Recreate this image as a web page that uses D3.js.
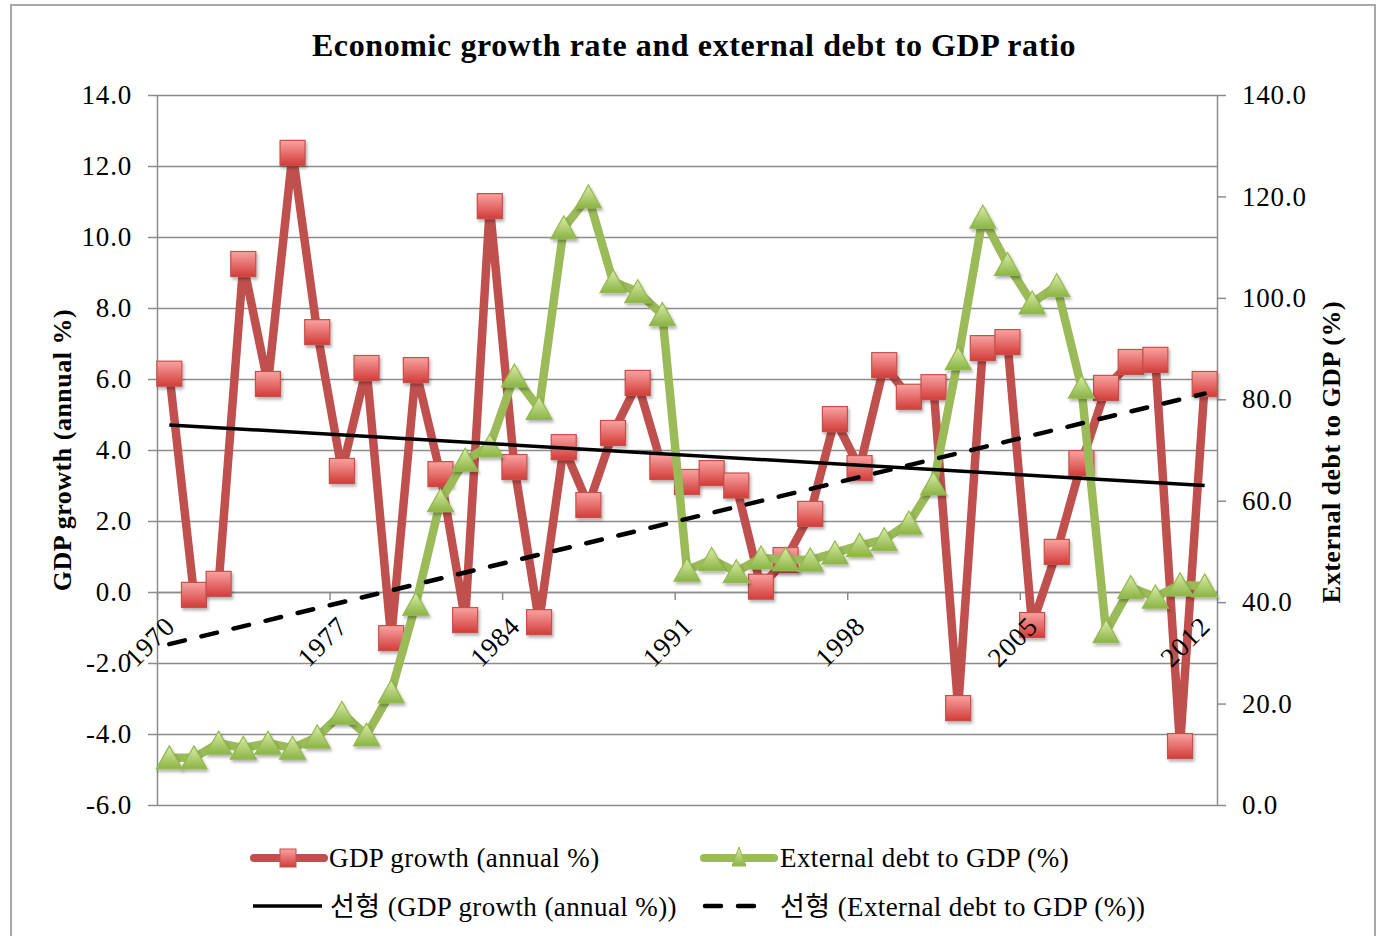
<!DOCTYPE html>
<html>
<head>
<meta charset="utf-8">
<script src="https://cdn.jsdelivr.net/npm/d3@7"></script>
<style>
  body { margin: 0; background: #fff; }
  text { font-family: "Liberation Serif", "Noto Sans CJK KR", serif; }
</style>
</head>
<body>
<script>
// categories
var years = [1970, 1971, 1972, 1973, 1974, 1975, 1976, 1977, 1978, 1979,
             1980, 1981, 1982, 1983, 1984, 1985, 1986, 1987, 1988, 1989,
             1990, 1991, 1992, 1993, 1994, 1995, 1996, 1997, 1998, 1999,
             2000, 2001, 2002, 2003, 2004, 2005, 2006, 2007, 2008, 2009,
             2010, 2011, 2012];
var labelYears = [1970, 1977, 1984, 1991, 1998, 2005, 2012];

// GDP growth (annual %) - left axis
var gdpGrowth = [6.15, -0.08, 0.23, 9.24, 5.86, 12.37, 7.32, 3.41, 6.31, -1.3,
                 6.25, 3.32, -0.79, 10.87, 3.52, -0.85, 4.08, 2.45, 4.48, 5.89,
                 3.52, 3.1, 3.35, 3.0, 0.15, 0.9, 2.2, 4.87, 3.49, 6.39,
                 5.5, 5.77, -3.27, 6.87, 7.04, -0.93, 1.13, 3.63, 5.75, 6.48,
                 6.54, -4.34, 5.86];

// External debt to GDP (%) - right axis
var extDebt = [9.3, 9.3, 12.2, 11.2, 12.2, 11.2, 13.4, 18.1, 13.8, 22.3,
               39.6, 60.0, 68.0, 70.8, 84.6, 78.2, 113.8, 119.9, 103.2, 101.2,
               96.7, 46.3, 48.4, 46.0, 48.7, 48.4, 48.3, 49.7, 51.2, 52.3,
               55.6, 63.3, 88.0, 115.9, 106.6, 99.0, 102.4, 82.4, 34.2, 42.9,
               41.0, 43.4, 43.2];

var leftTicks = [-6, -4, -2, 0, 2, 4, 6, 8, 10, 12, 14];
var rightTicks = [0, 20, 40, 60, 80, 100, 120, 140];

var chartTitle = "Economic growth rate and external debt to GDP ratio";
var leftTitle = "GDP growth (annual %)";
var rightTitle = "External debt to GDP (%)";
var legendNames = ["GDP growth (annual %)", "External debt to GDP (%)",
                   "선형 (GDP growth (annual %))", "선형 (External debt to GDP (%))"];

var width = 1384, height = 936;
var plotL = 157, plotR = 1217, plotT = 95, plotB = 805;

var red = "#c0504d", green = "#9bbb59", grid = "#8c8c8c";

var svg = d3.select("body").append("svg")
    .attr("width", width)
    .attr("height", height);

var defs = svg.append("defs");
var gr = defs.append("linearGradient").attr("id", "gRed").attr("x1", 0).attr("y1", 0).attr("x2", 0).attr("y2", 1);
gr.append("stop").attr("offset", "0%").attr("stop-color", "#f9a3a1");
gr.append("stop").attr("offset", "100%").attr("stop-color", "#d23c39");
var gg = defs.append("linearGradient").attr("id", "gGreen").attr("x1", 0).attr("y1", 0).attr("x2", 0).attr("y2", 1);
gg.append("stop").attr("offset", "0%").attr("stop-color", "#dcedab");
gg.append("stop").attr("offset", "100%").attr("stop-color", "#8ab443");
var sh = defs.append("filter").attr("id", "shadow").attr("x", "-50%").attr("y", "-50%").attr("width", "200%").attr("height", "200%");
sh.append("feDropShadow").attr("dx", 1.5).attr("dy", 2.5).attr("stdDeviation", 1.5)
    .attr("flood-color", "#000").attr("flood-opacity", 0.3);

// outer frame
svg.append("rect")
    .attr("x", 11).attr("y", 5)
    .attr("width", 1364).attr("height", 940)
    .attr("fill", "none").attr("stroke", grid).attr("stroke-width", 1.5);

// scales
var x = d3.scaleBand().domain(years).range([plotL, plotR]);
var xEdge = d3.scaleLinear().domain([years[0], years[years.length - 1] + 1]).range([plotL, plotR]);
var yL = d3.scaleLinear().domain([-6, 14]).range([plotB, plotT]);
var yR = d3.scaleLinear().domain([0, 140]).range([plotB, plotT]);
function cx(yr) { return x(yr) + x.bandwidth() / 2; }

function tickStyle(g) {
    g.select(".domain").attr("stroke", grid).attr("stroke-width", 1.5);
    g.selectAll("line").attr("stroke", grid).attr("stroke-width", 1.5);
    g.selectAll("text").attr("font-size", 27).attr("fill", "#000")
        .attr("letter-spacing", 0.8)
        .style("font-family", "Liberation Serif");
}

// gridlines
svg.append("g")
    .attr("transform", "translate(" + plotL + ",0)")
    .call(d3.axisLeft(yL).tickValues(leftTicks).tickSize(-(plotR - plotL)).tickFormat(""))
    .call(function(g) {
        g.select(".domain").remove();
        g.selectAll("line").attr("stroke", grid).attr("stroke-width", 1.5);
    });

// left axis
svg.append("g")
    .attr("transform", "translate(" + plotL + ",0)")
    .call(d3.axisLeft(yL).tickValues(leftTicks).tickSize(9).tickSizeOuter(0).tickPadding(16)
        .tickFormat(function(d) { return d.toFixed(1); }))
    .call(tickStyle);

// right axis
svg.append("g")
    .attr("transform", "translate(" + plotR + ",0)")
    .call(d3.axisRight(yR).tickValues(rightTicks).tickSize(9).tickSizeOuter(0).tickPadding(16)
        .tickFormat(function(d) { return d.toFixed(1); }))
    .call(tickStyle);

// category axis at zero (line + ticks)
var xAxis = d3.axisBottom(xEdge).tickValues(labelYears).tickSize(8).tickSizeOuter(0).tickFormat(d3.format("d"));
svg.append("g")
    .attr("transform", "translate(0," + yL(0) + ")")
    .call(xAxis)
    .call(tickStyle)
    .call(function(g) { g.selectAll("text").remove(); });

// series lines
var lineL = d3.line().x(function(d) { return cx(d.year); }).y(function(d) { return yL(d.v); });
var lineR = d3.line().x(function(d) { return cx(d.year); }).y(function(d) { return yR(d.v); });
var gdpData = years.map(function(yr, i) { return {year: yr, v: gdpGrowth[i]}; });
var debtData = years.map(function(yr, i) { return {year: yr, v: extDebt[i]}; });

svg.append("path").datum(gdpData)
    .attr("d", lineL).attr("fill", "none").attr("stroke", red)
    .attr("stroke-width", 8.5).attr("stroke-linejoin", "round");

svg.selectAll(".sq").data(gdpData).enter().append("rect")
    .attr("class", "sq")
    .attr("x", function(d) { return cx(d.year) - 12.5; })
    .attr("y", function(d) { return yL(d.v) - 12.5; })
    .attr("width", 25).attr("height", 25)
    .attr("fill", "url(#gRed)").attr("stroke", "#c4504c").attr("stroke-width", 1.2)
    .attr("filter", "url(#shadow)");

svg.append("path").datum(debtData)
    .attr("d", lineR).attr("fill", "none").attr("stroke", green)
    .attr("stroke-width", 8.5).attr("stroke-linejoin", "round");

svg.selectAll(".tri").data(debtData).enter().append("path")
    .attr("class", "tri")
    .attr("d", "M0,-12L13,11L-13,11Z")
    .attr("transform", function(d) { return "translate(" + cx(d.year) + "," + yR(d.v) + ")"; })
    .attr("fill", "url(#gGreen)").attr("stroke", "#94b950").attr("stroke-width", 1.2)
    .attr("filter", "url(#shadow)");

// linear trend lines (least squares over category index)
function trend(vals) {
    var n = vals.length, sx = 0, sy = 0, sxx = 0, sxy = 0;
    vals.forEach(function(v, i) { var t = i + 1; sx += t; sy += v; sxx += t * t; sxy += t * v; });
    var b = (n * sxy - sx * sy) / (n * sxx - sx * sx);
    var a = (sy - b * sx) / n;
    return [{year: years[0], v: a + b}, {year: years[n - 1], v: a + b * n}];
}

svg.append("path").datum(trend(gdpGrowth))
    .attr("d", lineL).attr("fill", "none").attr("stroke", "#000").attr("stroke-width", 3.5);

svg.append("path").datum(trend(extDebt))
    .attr("d", lineR).attr("fill", "none").attr("stroke", "#000").attr("stroke-width", 4.5)
    .attr("stroke-dasharray", "16,17").attr("stroke-linecap", "round");

// category labels on top of the series
svg.append("g")
    .attr("transform", "translate(0," + yL(0) + ")")
    .call(xAxis)
    .call(tickStyle)
    .call(function(g) {
        g.select(".domain").remove();
        g.selectAll("line").remove();
        g.selectAll("text")
            .attr("text-anchor", "end")
            .attr("dy", 0)
            .attr("y", 0)
            .attr("transform", "translate(19,36) rotate(-45)");
    });

// titles
svg.append("text").attr("x", 694).attr("y", 56).attr("text-anchor", "middle")
    .attr("font-size", 32).attr("letter-spacing", 0.6).attr("font-weight", "bold").text(chartTitle);

svg.append("text").attr("transform", "translate(71,450) rotate(-90)").attr("text-anchor", "middle")
    .attr("font-size", 26).attr("letter-spacing", 0.5).attr("font-weight", "bold").text(leftTitle);

svg.append("text").attr("transform", "translate(1340,452) rotate(-90)").attr("text-anchor", "middle")
    .attr("font-size", 26).attr("letter-spacing", 0.5).attr("font-weight", "bold").text(rightTitle);

// legend
var leg = svg.append("g");
function legText(xp, yp, t) {
    leg.append("text").attr("x", xp).attr("y", yp).attr("font-size", 27)
        .attr("letter-spacing", 0.4).text(t);
}
leg.append("line").attr("x1", 254).attr("x2", 324).attr("y1", 858).attr("y2", 858)
    .attr("stroke", red).attr("stroke-width", 8).attr("stroke-linecap", "round");
leg.append("rect").attr("x", 280).attr("y", 849).attr("width", 16).attr("height", 18)
    .attr("fill", "url(#gRed)").attr("stroke", "#c4504c").attr("stroke-width", 1);
legText(329, 867, legendNames[0]);

leg.append("line").attr("x1", 704).attr("x2", 774).attr("y1", 858).attr("y2", 858)
    .attr("stroke", green).attr("stroke-width", 8).attr("stroke-linecap", "round");
leg.append("path").attr("d", "M739,847L746,866L732,866Z")
    .attr("fill", "url(#gGreen)").attr("stroke", "#94b950").attr("stroke-width", 1);
legText(780, 867, legendNames[1]);

leg.append("line").attr("x1", 253).attr("x2", 322).attr("y1", 906).attr("y2", 906)
    .attr("stroke", "#000").attr("stroke-width", 3.5);
legText(330, 916, legendNames[2]);

leg.append("line").attr("x1", 705).attr("x2", 768).attr("y1", 906).attr("y2", 906)
    .attr("stroke", "#000").attr("stroke-width", 4.5)
    .attr("stroke-dasharray", "16,17").attr("stroke-linecap", "round");
legText(780, 916, legendNames[3]);
</script>
</body>
</html>
